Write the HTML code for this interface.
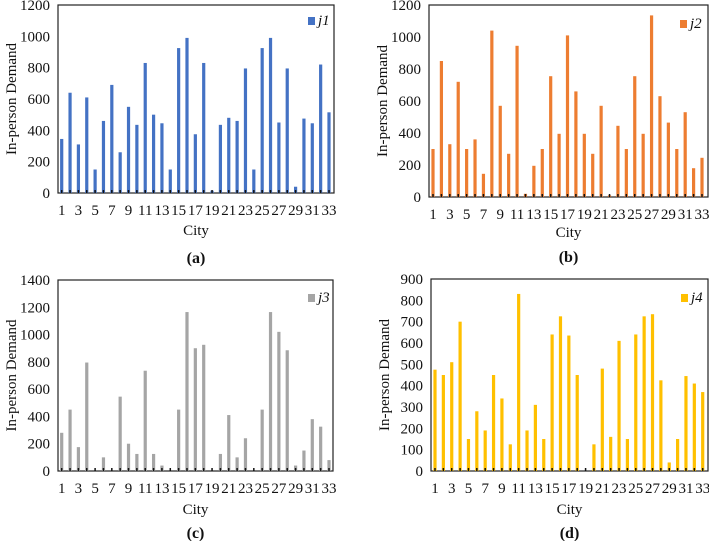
<!DOCTYPE html>
<html><head><meta charset="utf-8"><style>
body{margin:0;background:#fff}
svg{display:block;font-family:"Liberation Serif",serif}
</style></head><body>
<svg id="s" width="709" height="541" viewBox="0 0 709 541"></svg>
<script>
const cities = Array.from({length:33},(_,i)=>i+1);
const j1Values = [345,640,310,610,150,460,690,260,550,435,830,500,445,150,925,990,375,830,15,435,480,460,795,150,925,990,450,795,40,475,445,820,515];
const j2Values = [300,850,330,720,300,360,145,1040,570,270,945,20,195,300,755,395,1010,660,395,270,570,10,445,300,755,395,1135,630,465,300,530,180,245];
const j3Values = [280,450,175,795,0,100,0,545,200,125,735,125,40,0,450,1165,900,925,0,125,410,100,240,0,450,1165,1020,885,40,150,380,325,80];
const j4Values = [475,450,510,700,150,280,190,450,340,125,830,190,310,150,640,725,635,450,0,125,480,160,610,150,640,725,735,425,40,150,445,410,370];
const ticksA = [0,200,400,600,800,1000,1200];
const ticksC = [0,200,400,600,800,1000,1200,1400];
const ticksD = [0,100,200,300,400,500,600,700,800,900];
const NS="http://www.w3.org/2000/svg";
const svg=document.getElementById('s');
function mk(tag,attrs,parent,text){const e=document.createElementNS(NS,tag);for(const k in attrs)e.setAttribute(k,attrs[k]);if(text!==undefined)e.textContent=text;(parent||svg).appendChild(e);return e;}
function panel(o){
  const g=mk('g',{});
  
  
  const max=o.ticks[o.ticks.length-1];
  const y=v=>o.y0-(v/max)*(o.y0-o.yTop);
  const x=c=>o.x1+(c-1)*(o.x33-o.x1)/32;
  const fr=mk('rect',{x:o.ax,y:o.yTop,width:o.right-o.ax,height:o.y0-o.yTop,fill:'none',stroke:'#222','stroke-width':1.2},g);
  
  
  o.ticks.forEach(t=>{
    const tl=mk('text',{x:o.ax-8,y:y(t)+5,'text-anchor':'end','font-size':15,fill:'#111'},g,t);
    
    
  });
  o.values.forEach((v,i)=>{
    const c=cities[i];
    const b=mk('rect',{x:x(c)-1.6,y:y(v),width:3.2,height:o.y0-y(v),fill:o.color},g);
    
    
    mk('line',{x1:x(c),x2:x(c),y1:o.y0,y2:o.y0-3,stroke:'#111','stroke-width':1.5},g);
    if(c%2===1){
      const xl=mk('text',{x:x(c),y:o.y0+22,'text-anchor':'middle','font-size':15,fill:'#111'},g,c);
      
      
    }
  });
  const my=(o.yTop+o.y0)/2;
  const yt=mk('text',{x:0,y:0,transform:`translate(${o.ax-42},${my}) rotate(-90)`,'text-anchor':'middle','font-size':15,fill:'#111'},g,'In-person Demand');
  
  
  const xt=mk('text',{x:(o.ax+o.right)/2,y:o.cityY,'text-anchor':'middle','font-size':15,fill:'#111'},g,'City');
  
  
  const cap=mk('text',{x:(o.ax+o.right)/2,y:o.capY,'text-anchor':'middle','font-size':16,'font-weight':'bold',fill:'#111'},g,'('+o.letter+')');
  
  
  const ls=mk('rect',{x:o.legX,y:o.legY-8,width:7,height:8,fill:o.color},g);
  
  
  const lt=mk('text',{x:o.legX+10,y:o.legY,'font-size':15,'font-style':'italic',fill:'#111'},g,o.name);
  
  
}
panel({letter:'a',name:'j1',values:j1Values,ticks:ticksA,color:'#4472C4',ax:58,right:334,yTop:5,y0:193,x1:61.7,x33:329,cityY:235,capY:263,legX:308,legY:25});
panel({letter:'b',name:'j2',values:j2Values,ticks:ticksA,color:'#ED7D31',ax:429,right:708,yTop:5,y0:197,x1:433,x33:702,cityY:237,capY:262,legX:680,legY:28});
panel({letter:'c',name:'j3',values:j3Values,ticks:ticksC,color:'#A5A5A5',ax:58,right:333,yTop:280,y0:471,x1:61.7,x33:329,cityY:514,capY:538,legX:308,legY:302});
panel({letter:'d',name:'j4',values:j4Values,ticks:ticksD,color:'#FFC000',ax:431,right:708,yTop:279,y0:471,x1:435,x33:702.7,cityY:514,capY:538,legX:681,legY:302});
</script>
</body></html>
